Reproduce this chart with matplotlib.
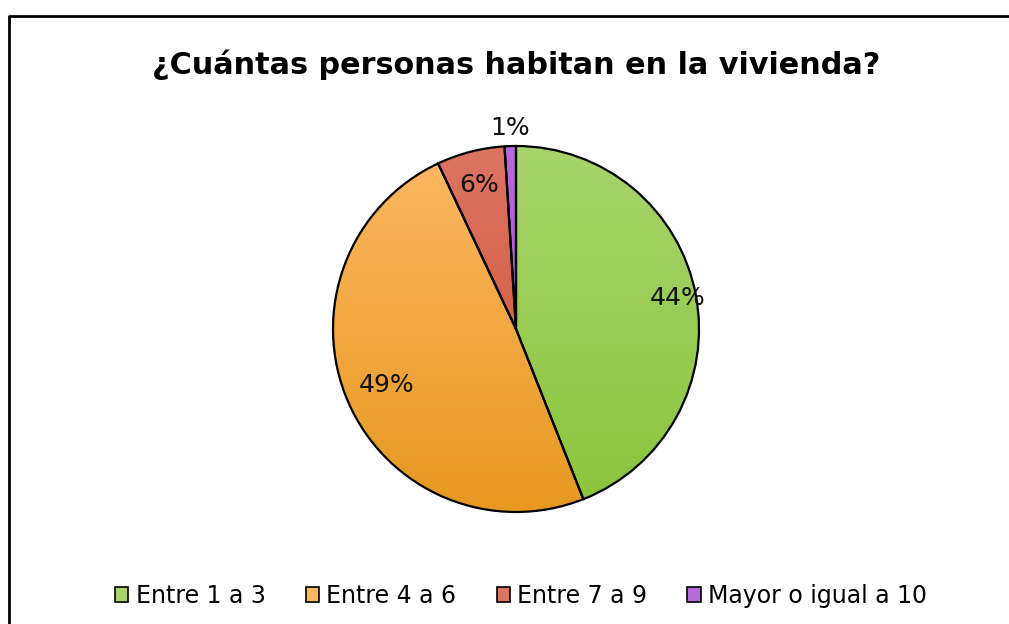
import numpy as np
import matplotlib
matplotlib.use('Agg')
import matplotlib.pyplot as plt
from matplotlib.colors import LinearSegmentedColormap
from matplotlib.patches import Rectangle

# data
labels = ['Entre 1 a 3', 'Entre 4 a 6', 'Entre 7 a 9', 'Mayor o igual a 10']
values = [44, 49, 6, 1]
pct_labels = ['44%', '49%', '6%', '1%']
title = '¿Cuántas personas habitan en la vivienda?'

# top / bottom gradient colours for each slice
tops = ['#a8d46c', '#fdb862', '#dc7462', '#b869dc']
bottoms = ['#8ac43a', '#e69820', '#cf4f34', '#a347cc']
lab_dist = [0.90, 0.77, 0.81, 1.10]

plt.rcParams['font.family'] = ['DejaVu Sans']

W, H = 1009, 624
fig = plt.figure(figsize=(W / 100, H / 100), dpi=100)
ax = fig.add_axes([0, 0, 1, 1])

cx, cy, r = 516, H - 329, 183
wedges, _ = ax.pie(values, startangle=90, counterclock=False,
                   center=(cx, cy), radius=r,
                   wedgeprops=dict(edgecolor='black', linewidth=1.6, facecolor='none'))
ax.set_xlim(0, W)
ax.set_ylim(0, H)
ax.set_aspect('auto')
ax.axis('off')

grad = np.linspace(1, 0, 256).reshape(-1, 1)
for i, w in enumerate(wedges):
    cmap = LinearSegmentedColormap.from_list('g%d' % i, [bottoms[i], tops[i]])
    im = ax.imshow(grad, cmap=cmap, extent=(cx - r, cx + r, cy - r, cy + r),
                   origin='upper', zorder=0.5, aspect='auto')
    im.set_clip_path(w)
    w.set_zorder(1)
    ang = np.deg2rad((w.theta1 + w.theta2) / 2)
    d = lab_dist[i] * r
    ax.text(cx + d * np.cos(ang), cy + d * np.sin(ang), pct_labels[i],
            ha='center', va='center', fontsize=18, color='#111111', zorder=3)
ax.set_xlim(0, W)
ax.set_ylim(0, H)

# title
fig.text(516 / W, 1 - 65 / H, title, ha='center', va='center',
         fontsize=21.8, fontweight='bold')

# frame (cropped on the right and bottom)
ax.plot([9, 9, W + 5], [-5, H - 16, H - 16], color='black', lw=2, zorder=5,
        clip_on=False)

# legend
handles = [Rectangle((0, 0), 1, 1, facecolor=(tops[i]), edgecolor='black', lw=1.2)
           for i in range(len(labels))]
leg = fig.legend(handles, labels, loc='center', bbox_to_anchor=(521 / W, 1 - 596 / H),
                 ncol=4, frameon=False, fontsize=17, handlelength=0.58,
                 handleheight=0.58, handletextpad=0.3, columnspacing=1.7)

fig.savefig('out.png', dpi=100)
